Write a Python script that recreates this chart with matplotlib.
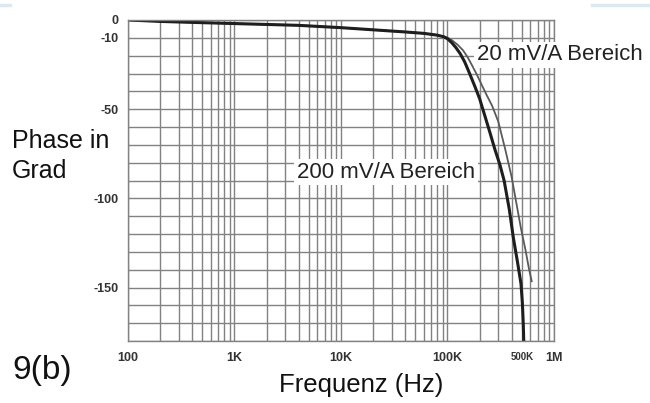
import numpy as np
import matplotlib
matplotlib.use("Agg")
import matplotlib.pyplot as plt
from matplotlib.lines import Line2D
from matplotlib.ticker import LogLocator, NullFormatter

plt.rcParams["font.family"] = ["Liberation Sans", "DejaVu Sans"]

# 200 mV/A range (thick dark curve)
freq_200 = [100, 200, 500, 1000, 2000, 4000, 10000, 20000, 40000, 60000, 80000,
            92000, 100000, 110000, 120000, 132000, 145000, 160000, 180000, 200000,
            225000, 250000, 280000, 310000, 340000, 380000, 415000, 455000,
            490000, 505000, 515000, 520000]
phase_200 = [0, -0.8, -1.5, -2, -2.5, -3, -4.3, -5.5, -6.7, -7.5, -8.5,
             -9.4, -10.5, -12.8, -15.5, -19, -23.5, -29.5, -37, -44,
             -54, -63, -73, -81, -90, -106, -122, -136,
             -148, -159, -171, -180]

# 20 mV/A range (thin grey curve)
freq_20 = [100, 200, 500, 1000, 2000, 4000, 10000, 20000, 40000, 60000, 80000,
           92000, 100000, 110000, 125000, 140000, 155000, 172000, 190000, 212000,
           235000, 262000, 300000, 350000, 400000, 432000, 460000, 490000,
           540000, 580000, 620000]
phase_20 = [0, -0.8, -1.5, -2, -2.5, -3, -4.3, -5.5, -6.7, -7.5, -8.5,
            -9.2, -9.9, -11.3, -14, -17, -21, -26, -31, -37,
            -42.5, -48, -57, -73, -88, -99, -108, -117,
            -129, -139, -147]

x_ticks = [100, 1e3, 1e4, 1e5, 5e5, 1e6]
x_labels = ["100", "1K", "10K", "100K", "500K", "1M"]
y_ticks = [0, -10, -50, -100, -150]
y_labels = ["0", "-10", "-50", "-100", "-150"]

fig = plt.figure(figsize=(6.5, 4.03), dpi=100)
ax = fig.add_axes([128 / 650, 1 - 341 / 403, (554 - 128) / 650, (341 - 20) / 403])

grid_c = "#828282"
ax.set_xscale("log")
ax.set_xlim(100, 1e6)
ax.set_ylim(-180, 0)

ax.xaxis.set_minor_locator(LogLocator(base=10, subs=np.arange(2, 10)))
ax.xaxis.set_minor_formatter(NullFormatter())
ax.set_xticks(x_ticks)
ax.set_xticklabels(x_labels)
ax.set_yticks(np.arange(-180, 1, 10), minor=True)
ax.set_yticks(y_ticks)
ax.set_yticklabels(y_labels)

ax.grid(True, which="both", axis="both", color=grid_c, lw=1.0)
ax.set_axisbelow(True)
ax.tick_params(which="both", length=0)
ax.tick_params(axis="x", pad=8, labelsize=9, labelcolor="#333333")
ax.tick_params(axis="y", pad=7, labelsize=9, labelcolor="#333333")
for lab in ax.get_xticklabels() + ax.get_yticklabels():
    lab.set_fontweight("bold")
ax.get_xticklabels()[4].set_fontsize(7)
for s in ax.spines.values():
    s.set_color(grid_c)
    s.set_linewidth(1.0)

ax.plot(freq_20, phase_20, color="#5a5a5a", lw=1.3, solid_capstyle="butt")
ax.plot(freq_200, phase_200, color="#1e1e1e", lw=2.2, solid_capstyle="butt")

box = dict(facecolor="white", edgecolor="none", pad=2)
fig.text(477 / 650, 1 - 55 / 403, "20 mV/A Bereich", fontsize=16,
         color="#222222", ha="left", va="center", bbox=box)
fig.text(386 / 650, 1 - 172 / 403, "200 mV/A Bereich", fontsize=16,
         color="#222222", ha="center", va="center", bbox=box)

fig.text(12 / 650, 1 - 156 / 403, "Phase in\nGrad", fontsize=18,
         color="#111111", ha="left", va="center", linespacing=1.35)
fig.text(12 / 650, 1 - 370 / 403, "9(b)", fontsize=24,
         color="#111111", ha="left", va="center")
fig.text(361 / 650, 1 - 385 / 403, "Frequenz (Hz)", fontsize=18.5,
         color="#111111", ha="center", va="center")

# faint decorative strokes at the top edge
fig.add_artist(Line2D([592 / 650, 1.0], [1 - 5 / 403] * 2, color="#dde9f1",
                      lw=2.5, transform=fig.transFigure))
fig.add_artist(Line2D([0, 10 / 650], [1 - 5 / 403] * 2, color="#dde9f1",
                      lw=2.5, transform=fig.transFigure))

fig.savefig("out.png", dpi=100)
